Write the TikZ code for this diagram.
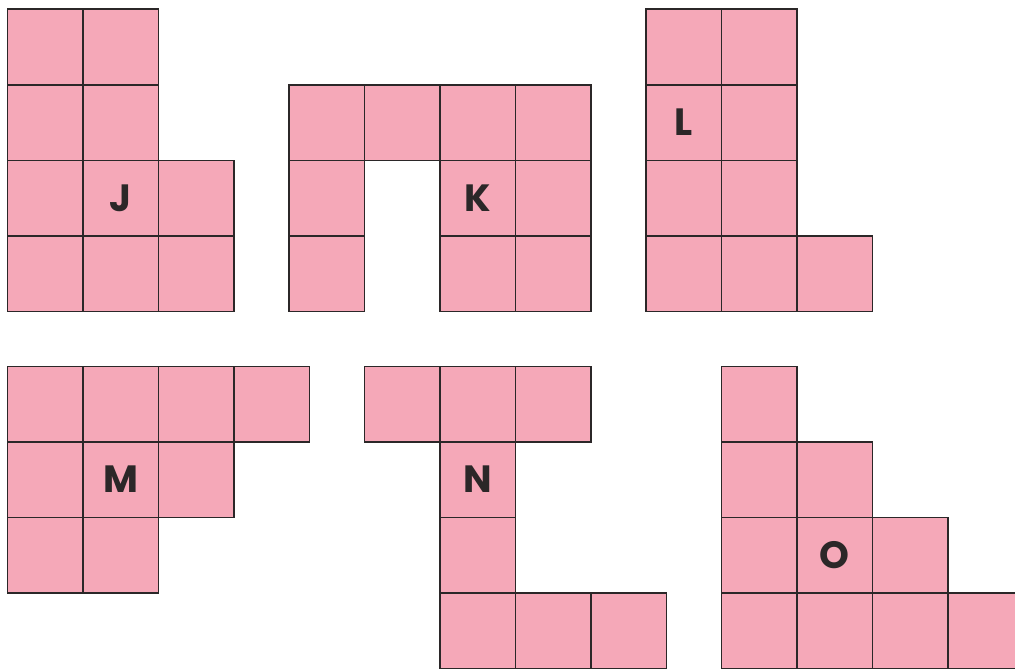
\documentclass[tikz,border=0pt]{standalone}
\usepackage{fontspec}
\setmainfont{Poppins}
\definecolor{cellpink}{HTML}{F5A8B8}
\definecolor{cellline}{HTML}{2B2728}
\begin{document}
\begin{tikzpicture}[x=1pt,y=-1pt,
  cell/.style={draw=cellline, fill=cellpink, line width=1.7pt, minimum size=75.5pt,
    inner sep=0pt, anchor=north west},
  lbl/.style={font=\fontsize{38}{40}\selectfont\bfseries, text=cellline, inner sep=0pt}]
\useasboundingbox (0,0) rectangle (1015,669);
\clip (0,0) rectangle (1015,669);
% J
\foreach \c/\r in {0/0,1/0,0/1,1/1,0/2,1/2,2/2,0/3,1/3,2/3}
  \node[cell] (J\c\r) at ({6.5+75.5*\c},{8.5+75.5*\r}) {};
\node[lbl] (labelJ) at (J12.center) {J};
% K
\foreach \c/\r in {0/1,1/1,2/1,3/1,0/2,2/2,3/2,0/3,2/3,3/3}
  \node[cell] (K\c\r) at ({288+75.5*\c},{8.5+75.5*\r}) {};
\node[lbl] (labelK) at (K22.center) {K};
% L
\foreach \c/\r in {0/0,1/0,0/1,1/1,0/2,1/2,0/3,1/3,2/3}
  \node[cell] (L\c\r) at ({645+75.5*\c},{8.5+75.5*\r}) {};
\node[lbl] (labelL) at (L01.center) {L};
% M
\foreach \c/\r in {0/0,1/0,2/0,3/0,0/1,1/1,2/1,0/2,1/2}
  \node[cell] (M\c\r) at ({6.5+75.5*\c},{365.5+75.5*\r}) {};
\node[lbl] (labelM) at (M11.center) {M};
% N
\foreach \c/\r in {0/0,1/0,2/0,1/1,1/2,1/3,2/3,3/3}
  \node[cell] (N\c\r) at ({363.5+75.5*\c},{365.5+75.5*\r}) {};
\node[lbl] (labelN) at (N11.center) {N};
% O
\foreach \c/\r in {0/0,0/1,1/1,0/2,1/2,2/2,0/3,1/3,2/3,3/3}
  \node[cell] (O\c\r) at ({720.5+75.5*\c},{365.5+75.5*\r}) {};
\node[lbl] (labelO) at (O12.center) {O};
\end{tikzpicture}
\end{document}
